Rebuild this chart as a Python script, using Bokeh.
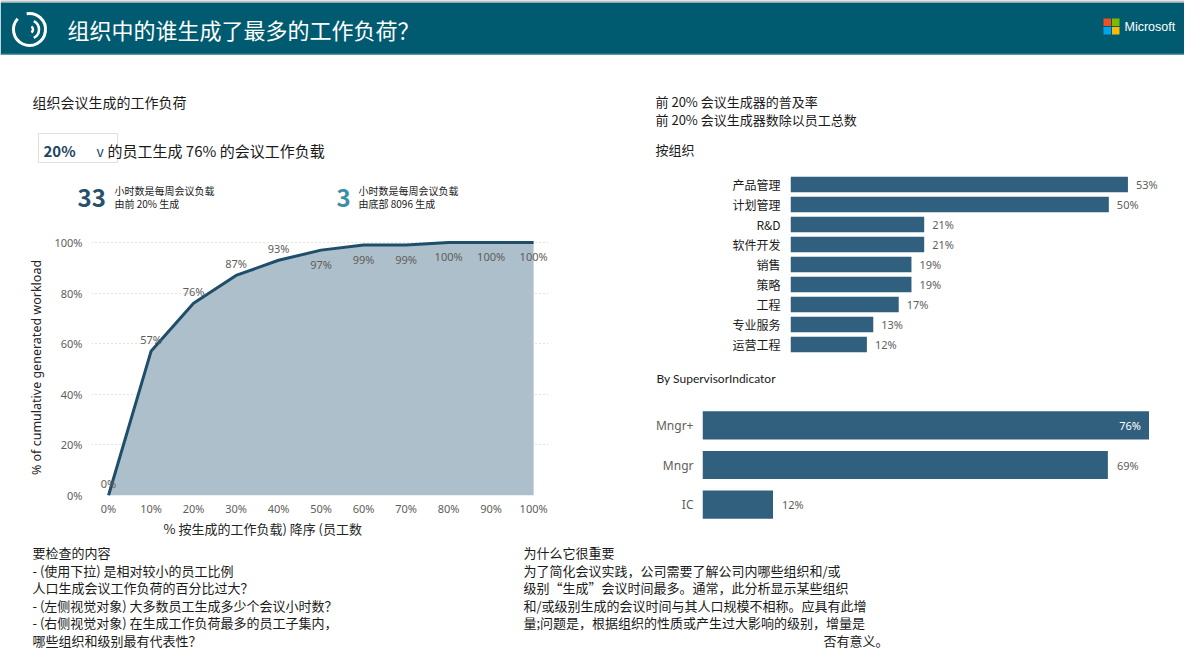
from bokeh.plotting import figure
from bokeh.layouts import column, row
from bokeh.models import Range1d, FactorRange, NumeralTickFormatter, FixedTicker
from bokeh.core.properties import value
from bokeh.embed import file_html
from bokeh.resources import INLINE

# ---------------- data ----------------
emp_share = [0.0, 0.1, 0.2, 0.3, 0.4, 0.5, 0.6, 0.7, 0.8, 0.9, 1.0]
cum_workload = [0.0, 0.57, 0.76, 0.87, 0.93, 0.97, 0.99, 0.99, 1.0, 1.0, 1.0]
x_ticks = [0.0, 0.1, 0.2, 0.3, 0.4, 0.5, 0.6, 0.7, 0.8, 0.9, 1.0]
y_ticks = [0.0, 0.2, 0.4, 0.6, 0.8, 1.0]

org_names = ["产品管理", "计划管理", "R&D", "软件开发", "销售", "策略", "工程", "专业服务", "运营工程"]
org_rate = [0.53, 0.50, 0.21, 0.21, 0.19, 0.19, 0.17, 0.13, 0.12]

sup_levels = ["Mngr+", "Mngr", "IC"]
sup_rate = [0.76, 0.69, 0.12]

top_share = "20%"
top_workload = "76%"
top_hours = "33"
bottom_hours = "3"
bottom_group = "8096"

CJK = "Noto Sans CJK SC"
TXT = "#1a1a1a"
GRAY = "#605e5c"
BAR = "#31607f"

COMMON = dict(output_backend="svg", toolbar_location=None, frame_align=False)


def canvas(w, h, bg="white"):
    p = figure(width=w, height=h, x_range=Range1d(0, w), y_range=Range1d(h, 0),
               min_border=0, x_axis_location=None, y_axis_location=None, **COMMON)
    p.outline_line_color = None
    p.background_fill_color = bg
    p.border_fill_color = bg
    for g in p.grid:
        g.visible = False
    return p


def put(p, x, y, s, size, color=TXT, align="left", font=CJK, style="normal"):
    p.text(x=[x], y=[y], text=[s], text_font=value(font), text_font_size=f"{size}px",
           text_color=color, text_align=align, text_baseline="middle", text_font_style=style)


def pct(v):
    return f"{round(v * 100)}%"


# ---------------- header ----------------
hdr = canvas(1184, 55, "white")
hdr.rect(x=[592], y=[28], width=1184, height=52, fill_color="#005b70", line_color=None)
hdr.line(x=[0, 1184], y=[0.5, 0.5], line_color="#8a8a8a", line_width=1)
hdr.line(x=[0, 1184], y=[53.5, 53.5], line_color="#3f8796", line_width=1)
hdr.arc(x=[29], y=[29], radius=16, start_angle=2.4, end_angle=1.75,
        line_color="white", line_width=3)
hdr.arc(x=[29], y=[29], radius=9.5, start_angle=-1.1, end_angle=1.1,
        line_color="white", line_width=2.5)
hdr.arc(x=[29], y=[29], radius=3.5, start_angle=-1.0, end_angle=1.0,
        line_color="white", line_width=2.5)
put(hdr, 67, 28, "组织中的谁生成了最多的工作负荷？", 22, color="white")
hdr.rect(x=[1106.75, 1115.25, 1106.75, 1115.25], y=[21.75, 21.75, 30.25, 30.25],
         width=7.5, height=7.5,
         fill_color=["#f25022", "#7fba00", "#00a4ef", "#ffb900"], line_color=None)
put(hdr, 1124, 26, "Microsoft", 12.5, color="white", font="Liberation Sans")

# ---------------- left top texts ----------------
lt = canvas(640, 173)
put(lt, 32, 46, "组织会议生成的工作负荷", 14)
lt.rect(x=[77.5], y=[92.5], width=79, height=29, fill_color="white",
        line_color="#e1dfdd", line_width=1)
put(lt, 43, 95, top_share, 15, color="#1d4763", style="bold")
put(lt, 96, 95, "v", 14, color="#1d4763")
put(lt, 107, 95, f"的员工生成 {top_workload} 的会议工作负载", 15)
put(lt, 77, 142, top_hours, 24, color="#27506d", style="bold")
put(lt, 114, 135, "小时数是每周会议负载", 10)
put(lt, 114, 148, f"由前 {top_share} 生成", 10)
put(lt, 336, 142, bottom_hours, 24, color="#3a8ea8", style="bold")
put(lt, 358, 135, "小时数是每周会议负载", 10)
put(lt, 358, 148, f"由底部 {bottom_group} 生成", 10)

# ---------------- area chart ----------------
ch = figure(width=640, height=290, x_range=Range1d(-0.04, 1.035), y_range=Range1d(0, 1.012),
            min_border_left=91, min_border_right=92, min_border_top=11, min_border_bottom=19,
            **COMMON)
ch.outline_line_color = None
ch.background_fill_color = "white"
ch.xgrid.visible = False
ch.ygrid.grid_line_color = "#c8c6c4"
ch.ygrid.grid_line_dash = "1 3"
ch.xaxis.ticker = FixedTicker(ticks=x_ticks)
ch.yaxis.ticker = FixedTicker(ticks=y_ticks)
for ax in (ch.xaxis[0], ch.yaxis[0]):
    ax.formatter = NumeralTickFormatter(format="0%")
    ax.axis_line_color = None
    ax.major_tick_line_color = None
    ax.minor_tick_line_color = None
    ax.major_tick_out = 0
    ax.major_tick_in = 0
    ax.major_label_text_font = "Noto Sans"
    ax.major_label_text_font_size = "11px"
    ax.major_label_text_color = GRAY
ch.yaxis.major_label_standoff = 9
ch.xaxis.major_label_standoff = 5
ch.yaxis.axis_label = "% of cumulative generated workload"
ch.yaxis.axis_label_standoff = 6
ch.yaxis.axis_label_text_font = "Noto Sans"
ch.yaxis.axis_label_text_font_size = "12.5px"
ch.yaxis.axis_label_text_font_style = "normal"
ch.yaxis.axis_label_text_color = "#252423"

ch.varea(x=emp_share, y1=0, y2=cum_workload, fill_color="#adbfca", fill_alpha=1)
ch.line(emp_share, cum_workload, line_color="#1f4e6b", line_width=3, line_join="round")
labels = [pct(v) for v in cum_workload]
k = 5
ch.text(x=emp_share[:k], y=cum_workload[:k], text=labels[:k], y_offset=-12,
        text_align="center", text_baseline="middle", text_font=value("Noto Sans"),
        text_font_size="11px", text_color=GRAY)
ch.text(x=emp_share[k:], y=cum_workload[k:], text=labels[k:], y_offset=14,
        text_align="center", text_baseline="middle", text_font=value("Noto Sans"),
        text_font_size="11px", text_color=GRAY)

xt = canvas(640, 22)
put(xt, 163, 10, "% 按生成的工作负载) 降序 (员工数", 13, color="#252423")

# ---------------- right texts ----------------
rt = canvas(544, 115)
put(rt, 15, 46, f"前 {top_share} 会议生成器的普及率", 13)
put(rt, 15, 64, f"前 {top_share} 会议生成器数除以员工总数", 13)
put(rt, 15, 94, "按组织", 13)


def style_bar_fig(p, label_color, label_font, size, standoff):
    p.outline_line_color = None
    p.background_fill_color = "white"
    for g in p.grid:
        g.visible = False
    ax = p.yaxis[0]
    ax.axis_line_color = None
    ax.major_tick_line_color = None
    ax.minor_tick_line_color = None
    ax.major_tick_out = 0
    ax.major_tick_in = 0
    ax.major_label_standoff = standoff
    ax.major_label_text_font = label_font
    ax.major_label_text_font_size = size
    ax.major_label_text_color = label_color


org_xmax = 0.60
org = figure(width=544, height=188, y_range=FactorRange(factors=org_names[::-1]),
             x_range=Range1d(0, org_xmax), x_axis_location=None,
             min_border_left=150, min_border_right=12, min_border_top=4, min_border_bottom=4,
             **COMMON)
style_bar_fig(org, "#1a1a1a", CJK, "12px", 10)
org.hbar(y=org_names, left=0, right=org_rate, height=0.78, fill_color=BAR, line_color=None)
org.text(x=org_rate, y=org_names, text=[pct(v) for v in org_rate], x_offset=8,
         text_align="left", text_baseline="middle", text_font=value("Noto Sans"),
         text_font_size="11px", text_color=GRAY)

st = canvas(544, 34)
put(st, 16, 20, "By SupervisorIndicator", 12, font="Lato")

sup_xmax = 0.80
sup = figure(width=544, height=148, y_range=FactorRange(factors=sup_levels[::-1]),
             x_range=Range1d(0, sup_xmax), x_axis_location=None,
             min_border_left=62, min_border_right=12, min_border_top=13, min_border_bottom=16,
             **COMMON)
style_bar_fig(sup, GRAY, "Noto Sans", "12px", 9)
sup.hbar(y=sup_levels, left=0, right=sup_rate, height=0.71, fill_color=BAR, line_color=None)
inside = [(l, v) for l, v in zip(sup_levels, sup_rate) if v + 0.065 > sup_xmax]
outside = [(l, v) for l, v in zip(sup_levels, sup_rate) if v + 0.065 <= sup_xmax]
if inside:
    sup.text(x=[v for _, v in inside], y=[l for l, _ in inside], text=[pct(v) for _, v in inside],
             x_offset=-8, text_align="right", text_baseline="middle",
             text_font=value("Noto Sans"), text_font_size="11px", text_color="white")
if outside:
    sup.text(x=[v for _, v in outside], y=[l for l, _ in outside], text=[pct(v) for _, v in outside],
             x_offset=9, text_align="left", text_baseline="middle",
             text_font=value("Noto Sans"), text_font_size="11px", text_color=GRAY)

# ---------------- bottom texts ----------------
bt = canvas(1184, 113)
left_lines = [
    "要检查的内容",
    "-  (使用下拉) 是相对较小的员工比例",
    "人口生成会议工作负荷的百分比过大？",
    "-  (左侧视觉对象) 大多数员工生成多少个会议小时数？",
    "-  (右侧视觉对象) 在生成工作负荷最多的员工子集内，",
    "哪些组织和级别最有代表性？",
]
right_lines = [
    "为什么它很重要",
    "为了简化会议实践，公司需要了解公司内哪些组织和/或",
    "级别“生成”会议时间最多。通常，此分析显示某些组织",
    "和/或级别生成的会议时间与其人口规模不相称。应具有此增",
    "量;问题是，根据组织的性质或产生过大影响的级别，增量是",
]
line_y = [12, 29.5, 47, 65, 82, 100]
for yy, s in zip(line_y, left_lines):
    put(bt, 32, yy, s, 13)
for yy, s in zip(line_y, right_lines):
    put(bt, 523, yy, s, 13)
put(bt, 888, line_y[5], "否有意义。", 13, align="right")

layout = column(
    hdr,
    row(column(lt, ch, xt), column(rt, org, st, sup)),
    bt,
)

open("out.html", "w").write(file_html(layout, INLINE))
